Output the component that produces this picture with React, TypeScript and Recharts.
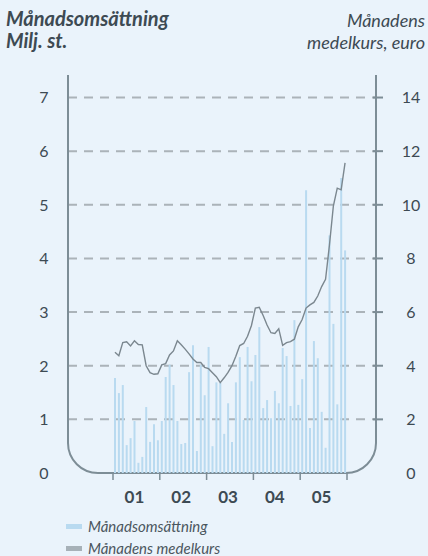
import React from 'react';
import { ComposedChart, Bar, Line, XAxis, YAxis, CartesianGrid, Legend, Customized } from 'recharts';

// månadsomsättning, milj. st. (jan 2001 – dec 2005)
const turnover = [
  1.77, 1.49, 1.64, 0.52, 0.65, 0.97, 0.19, 0.30, 1.23, 0.58, 0.91, 0.61,
  0.97, 1.79, 2.02, 1.64, 0.97, 0.54, 0.56, 1.88, 2.38, 0.41, 2.02, 1.45,
  2.35, 0.50, 1.69, 1.68, 0.73, 1.30, 0.58, 1.69, 2.16, 0.99, 2.35, 1.71,
  2.20, 2.72, 1.21, 1.36, 1.02, 1.53, 1.30, 2.33, 2.18, 1.25, 2.85, 1.27,
  1.75, 5.27, 0.84, 2.46, 2.14, 1.14, 0.47, 4.43, 2.78, 1.28, 5.50, 4.15,
];

// månadens medelkurs, euro
const avgPrice = [
  4.50, 4.37, 4.86, 4.89, 4.74, 4.93, 4.79, 4.78, 4.00, 3.74, 3.68, 3.70,
  4.03, 4.08, 4.40, 4.55, 4.93, 4.78, 4.62, 4.44, 4.25, 4.12, 4.12, 3.94,
  3.89, 3.74, 3.59, 3.37, 3.55, 3.75, 4.00, 4.35, 4.75, 4.83, 5.10, 5.50,
  6.15, 6.18, 5.87, 5.52, 5.23, 5.20, 5.38, 4.76, 4.86, 4.90, 4.99, 5.45,
  5.72, 6.15, 6.27, 6.36, 6.60, 6.95, 7.22, 8.50, 9.95, 10.62, 10.56, 11.56,
];

const years = ['01', '02', '03', '04', '05'];
const leftTicks = [0, 1, 2, 3, 4, 5, 6, 7];
const rightTicks = [0, 2, 4, 6, 8, 10, 12, 14];

const data = turnover.map((v, i) => ({ m: i + 0.5, turnover: v, price: avgPrice[i] }));

const W = 428;
const H = 556;
const PLOT_LEFT = 68;
const PLOT_RIGHT = 376;
const PLOT_TOP = 75;
const PLOT_BOTTOM = 473;
const R = 30;

const BG = '#eaf3fb';
const BAR = '#b9daf0';
const LINE = '#7b878f';
const FRAME = '#7d8d96';
const GRID = '#abb3b9';
const TEXT = '#3d4a53';
const FONT = 'Lato, "Open Sans", sans-serif';

const LeftTick = ({ y, payload }: any) => (
  <text x={44} y={y} dy={5.8} textAnchor="middle" fill={TEXT} fontSize={16} fontFamily={FONT}>
    {payload.value}
  </text>
);

const RightTick = ({ y, payload }: any) => (
  <g>
    {payload.value > 0 && <line x1={373} x2={383} y1={y} y2={y} stroke={FRAME} strokeWidth={2} />}
    <text x={411} y={y} dy={5.8} textAnchor="middle" fill={TEXT} fontSize={16} fontFamily={FONT}>
      {payload.value}
    </text>
  </g>
);

const XTick = ({ x, payload }: any) => {
  const v = payload.value;
  if (v % 12 === 0) {
    return <line x1={x} x2={x} y1={PLOT_BOTTOM} y2={PLOT_BOTTOM + 7} stroke={FRAME} strokeWidth={1.5} />;
  }
  return (
    <text x={x - 2} y={503} textAnchor="middle" fill={TEXT} fontSize={17} fontWeight="bold" fontFamily={FONT}>
      {years[Math.floor(v / 12)]}
    </text>
  );
};

// ram med rundade hörn längs axlarna
const Frame = () => (
  <path
    d={`M ${PLOT_LEFT} ${PLOT_TOP} L ${PLOT_LEFT} ${PLOT_BOTTOM - R} A ${R} ${R} 0 0 0 ${PLOT_LEFT + R} ${PLOT_BOTTOM}
        L ${PLOT_RIGHT - R} ${PLOT_BOTTOM} A ${R} ${R} 0 0 0 ${PLOT_RIGHT} ${PLOT_BOTTOM - R} L ${PLOT_RIGHT} ${PLOT_TOP}`}
    fill="none"
    stroke={FRAME}
    strokeWidth={2}
  />
);

const legendItems = [
  { name: 'Månadsomsättning', color: BAR },
  { name: 'Månadens medelkurs', color: '#a7b1b8' },
];

const LegendContent = () => (
  <div style={{ fontFamily: FONT, fontStyle: 'italic', fontSize: 15, color: '#4a565e' }}>
    {legendItems.map((item) => (
      <div key={item.name} style={{ display: 'flex', alignItems: 'center', height: 22 }}>
        <span style={{ width: 16, height: 5, background: item.color, marginRight: 6, display: 'inline-block' }} />
        {item.name}
      </div>
    ))}
  </div>
);

export default function App() {
  return (
    <div style={{ position: 'fixed', left: 0, top: 0, width: W, height: H, background: BG, overflow: 'hidden' }}>
      <div style={{ position: 'absolute', left: 6, top: 7, fontFamily: FONT, fontStyle: 'italic', fontWeight: 'bold', fontSize: 20, lineHeight: '22px', color: TEXT }}>
        Månadsomsättning
        <br />
        Milj. st.
      </div>
      <div style={{ position: 'absolute', right: 3, top: 9, textAlign: 'right', fontFamily: FONT, fontStyle: 'italic', fontSize: 18, lineHeight: '22px', color: TEXT }}>
        Månadens
        <br />
        medelkurs, euro
      </div>
      <ComposedChart width={W} height={H} data={data} margin={{ top: PLOT_TOP, right: 0, bottom: 0, left: 0 }}>
        <CartesianGrid
          yAxisId="left"
          vertical={false}
          horizontalValues={[1, 2, 3, 4, 5, 6, 7]}
          stroke={GRID}
          strokeWidth={2}
          strokeDasharray="9 7"
        />
        <XAxis
          dataKey="m"
          type="number"
          domain={[0, 60]}
          padding={{ left: 45, right: 29 }}
          ticks={[0, 6, 12, 18, 24, 30, 36, 42, 48, 54, 60]}
          interval={0}
          axisLine={false}
          tickLine={false}
          tick={<XTick />}
          height={H - PLOT_BOTTOM}
        />
        <YAxis
          yAxisId="left"
          orientation="left"
          domain={[0, 7.42]}
          ticks={leftTicks}
          interval={0}
          axisLine={false}
          tickLine={false}
          tick={<LeftTick />}
          width={PLOT_LEFT}
        />
        <YAxis
          yAxisId="right"
          orientation="right"
          domain={[0, 14.84]}
          ticks={rightTicks}
          interval={0}
          axisLine={false}
          tickLine={false}
          tick={<RightTick />}
          width={W - PLOT_RIGHT}
        />
        <Bar yAxisId="left" dataKey="turnover" name="Månadsomsättning" fill={BAR} barSize={2} isAnimationActive={false} />
        <Line
          yAxisId="right"
          dataKey="price"
          name="Månadens medelkurs"
          type="linear"
          stroke={LINE}
          strokeWidth={1.4}
          dot={false}
          activeDot={false}
          isAnimationActive={false}
        />
        <Customized component={<Frame />} />
        <Legend
          layout="horizontal"
          verticalAlign="middle"
          align="center"
          wrapperStyle={{ left: 66, top: 515, width: 'auto' }}
          content={<LegendContent />}
        />
      </ComposedChart>
    </div>
  );
}
